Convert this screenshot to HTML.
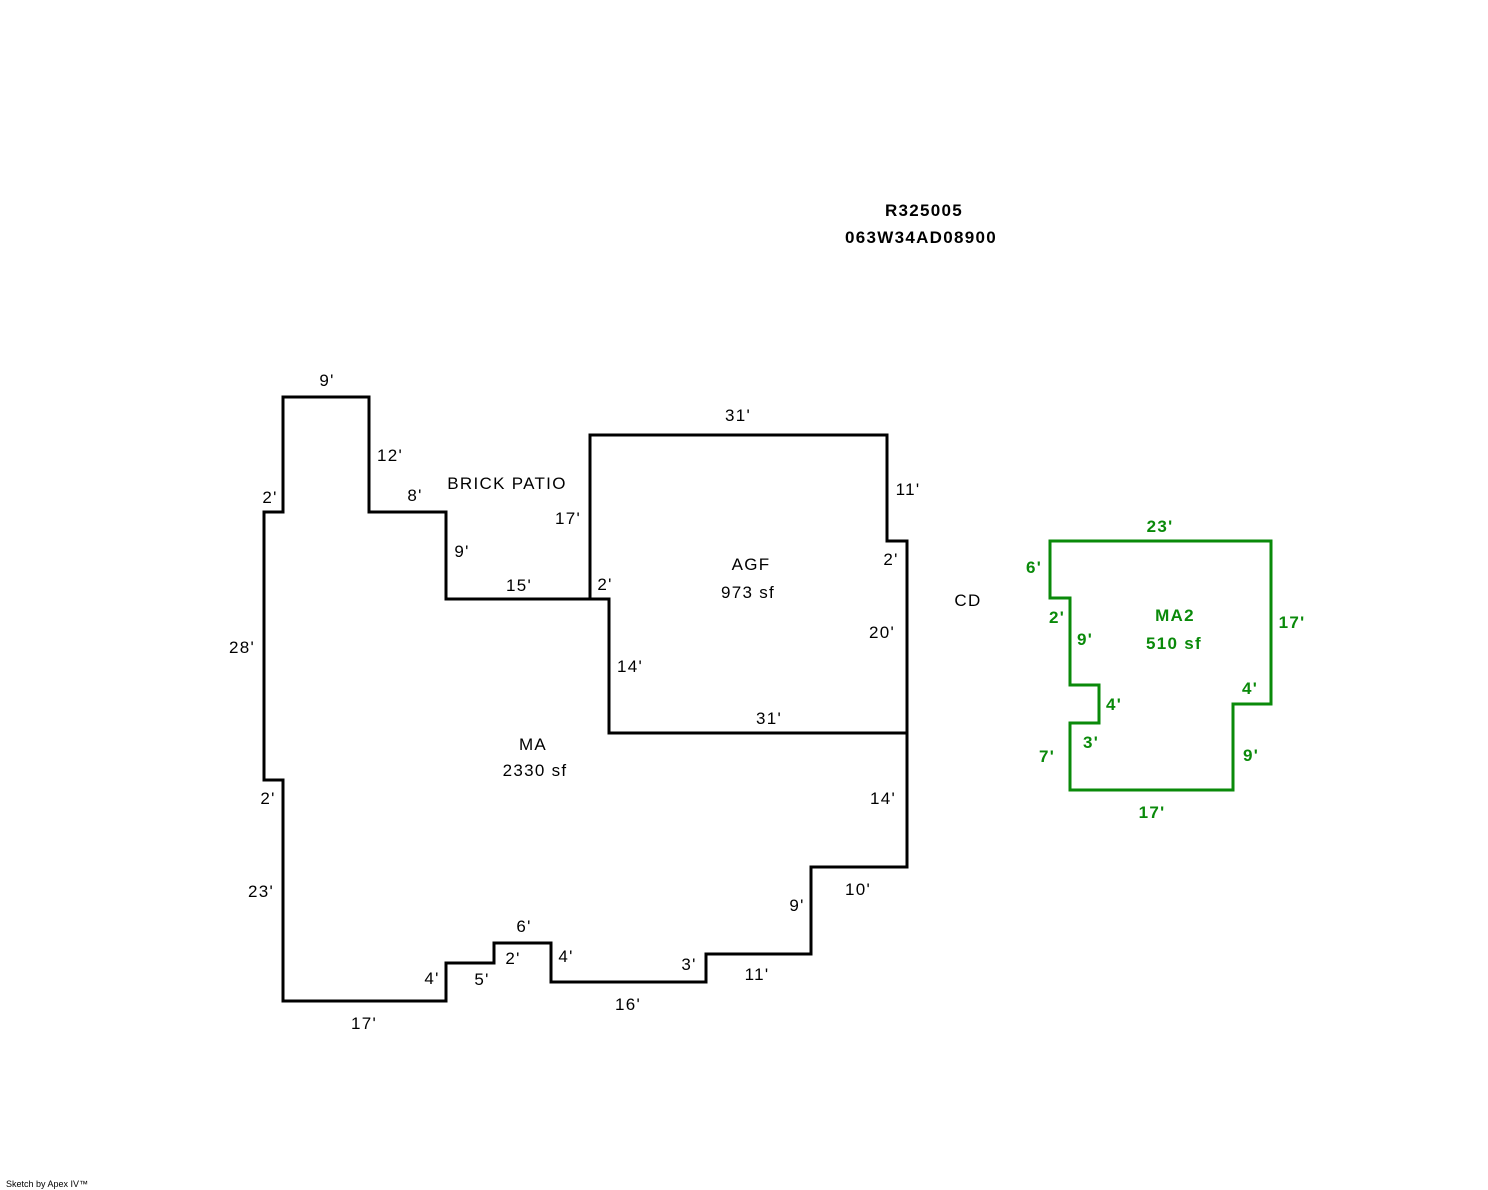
<!DOCTYPE html>
<html><head><meta charset="utf-8"><style>
html,body{margin:0;padding:0;background:#fff;}
svg{display:block;}
text{font-family:"Liberation Sans",Arial,sans-serif;font-size:17px;letter-spacing:1.3px;}
.b{fill:#000;}
.g{fill:#0a8a0a;font-weight:bold;}
.t{font-weight:bold;}
</style></head><body>
<svg width="1488" height="1190" viewBox="0 0 1488 1190" xmlns="http://www.w3.org/2000/svg">
<g fill="none" stroke="#000" stroke-width="3" stroke-linejoin="miter">
<polygon points="283,397 369,397 369,512 446,512 446,599 609,599 609,733 907,733 907,867 811,867 811,954 706,954 706,982 551,982 551,943 494,943 494,963 446,963 446,1001 283,1001 283,780 264,780 264,512 283,512"/>
<polygon points="590,435 887,435 887,541 907,541 907,733 609,733 609,599 590,599"/>
</g>
<polygon fill="none" stroke="#0a8a0a" stroke-width="3" points="1050,541 1271,541 1271,704 1233,704 1233,790 1070,790 1070,723 1099,723 1099,685 1070,685 1070,598 1050,598"/>

<text class="t" x="924" y="216" text-anchor="middle">R325005</text>
<text class="t" x="921" y="243" text-anchor="middle">063W34AD08900</text>

<g class="b" text-anchor="middle">
<text x="327" y="386">9'</text>
<text x="390" y="461">12'</text>
<text x="415" y="501">8'</text>
<text x="270" y="503">2'</text>
<text x="507" y="489">BRICK PATIO</text>
<text x="462" y="557">9'</text>
<text x="519" y="591">15'</text>
<text x="568" y="524">17'</text>
<text x="605" y="590">2'</text>
<text x="738" y="421">31'</text>
<text x="908" y="495">11'</text>
<text x="891" y="565">2'</text>
<text x="751" y="570">AGF</text>
<text x="748" y="598">973 sf</text>
<text x="968" y="606">CD</text>
<text x="882" y="638">20'</text>
<text x="242" y="653">28'</text>
<text x="630" y="672">14'</text>
<text x="769" y="724">31'</text>
<text x="533" y="750">MA</text>
<text x="535" y="776">2330 sf</text>
<text x="268" y="804">2'</text>
<text x="883" y="804">14'</text>
<text x="858" y="895">10'</text>
<text x="261" y="897">23'</text>
<text x="797" y="911">9'</text>
<text x="524" y="932">6'</text>
<text x="513" y="964">2'</text>
<text x="566" y="962">4'</text>
<text x="689" y="970">3'</text>
<text x="757" y="980">11'</text>
<text x="432" y="984">4'</text>
<text x="482" y="985">5'</text>
<text x="628" y="1010">16'</text>
<text x="364" y="1029">17'</text>
</g>

<g class="g" text-anchor="middle">
<text x="1160" y="532">23'</text>
<text x="1034" y="573">6'</text>
<text x="1175" y="621">MA2</text>
<text x="1174" y="649">510 sf</text>
<text x="1292" y="628">17'</text>
<text x="1057" y="623">2'</text>
<text x="1085" y="645">9'</text>
<text x="1250" y="694">4'</text>
<text x="1114" y="710">4'</text>
<text x="1091" y="748">3'</text>
<text x="1047" y="762">7'</text>
<text x="1251" y="761">9'</text>
<text x="1152" y="818">17'</text>
</g>

<text x="6" y="1187" style="font-size:9px;letter-spacing:0">Sketch by Apex IV™</text>
</svg>
</body></html>
